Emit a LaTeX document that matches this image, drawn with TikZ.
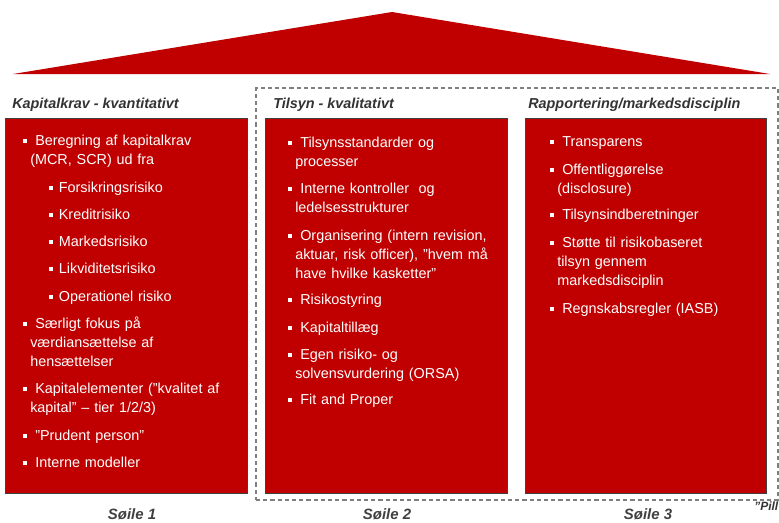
\documentclass[tikz,border=0pt]{standalone}
\usepackage{fontspec}
\setmainfont{Liberation Sans}
\definecolor{pillred}{HTML}{C00000}
\definecolor{edgegray}{HTML}{404040}
\definecolor{headgray}{HTML}{333333}
\definecolor{dashgray}{HTML}{7F7F7F}
\newcommand{\bul}{\rule[1.6pt]{3pt}{3pt}\hspace{6pt}}
\newcommand{\sbul}{\rule[1.6pt]{3pt}{3pt}\hspace{4.2pt}}
\newcommand{\cnt}{\hspace*{5.25pt}}
\tikzset{
  pillar/.style={draw=edgegray, line width=0.75pt, fill=pillred, inner sep=0pt,
    minimum height=281.25pt},
  itm/.style={anchor=base west, inner sep=0pt, text=white, text width=170pt,
    align=left, font=\fontsize{10.8}{14.25}\selectfont},
  head/.style={anchor=base west, inner sep=0pt, text=headgray,
    font=\fontsize{10.8}{13}\selectfont\bfseries\itshape},
  foot/.style={anchor=base, inner sep=0pt, text=edgegray,
    font=\fontsize{11.2}{13}\selectfont\bfseries\itshape},
  frame/.style={draw=dashgray, line width=0.9pt, dash pattern=on 3.2pt off 2.2pt,
    inner sep=0pt}
}
\begin{document}
\begin{tikzpicture}[x=0.75pt,y=-0.75pt]
\useasboundingbox (0,0) rectangle (779,522);
\clip (0,0) rectangle (779,522);
% roof
\fill[pillred] (13,74) -- (392,12) -- (770,74) -- cycle;
% dashed frame
\node[frame, minimum width=391.5pt, minimum height=309pt] (frame) at (517,294) {};
% pillars
\node[pillar, minimum width=181.5pt] (p1) at (126,305.5) {};
\node[pillar, minimum width=181.5pt] (p2) at (386,305.5) {};
\node[pillar, minimum width=180.75pt] (p3) at (645.5,305.5) {};
% headers
\node[head] (h1) at (12,108) {Kapitalkrav - kvantitativt};
\node[head] (h2) at (273,108) {Tilsyn - kvalitativt};
\node[head] (h3) at (528,108) {Rapportering/markedsdisciplin};
% pillar 1
\node[itm] (a1) at (23,145) {\bul Beregning af kapitalkrav\\\cnt(MCR, SCR) ud fra};
\node[itm] (a2) at (49,192) {\sbul Forsikringsrisiko};
\node[itm] (a3) at (49,219) {\sbul Kreditrisiko};
\node[itm] (a4) at (49,246) {\sbul Markedsrisiko};
\node[itm] (a5) at (49,273) {\sbul Likviditetsrisiko};
\node[itm] (a6) at (49,301) {\sbul Operationel risiko};
\node[itm] (a7) at (23,328) {\bul Særligt fokus på\\\cnt værdiansættelse af\\\cnt hensættelser};
\node[itm] (a8) at (23,393) {\bul Kapitalelementer (”kvalitet af\\\cnt kapital” – tier 1/2/3)};
\node[itm] (a9) at (23,440) {\bul ”Prudent person”};
\node[itm] (a10) at (23,467) {\bul Interne modeller};
% pillar 2
\node[itm] (b1) at (288,147) {\bul Tilsynsstandarder og\\\cnt processer};
\node[itm] (b2) at (288,193) {\bul Interne kontroller\ \ og\\\cnt ledelsesstrukturer};
\node[itm] (b3) at (288,240) {\bul Organisering (intern revision,\\\cnt aktuar, risk officer), ”hvem må\\\cnt have hvilke kasketter”};
\node[itm] (b4) at (288,304) {\bul Risikostyring};
\node[itm] (b5) at (288,332) {\bul Kapitaltillæg};
\node[itm] (b6) at (288,359) {\bul Egen risiko- og\\\cnt solvensvurdering (ORSA)};
\node[itm] (b7) at (288,404) {\bul Fit and Proper};
% pillar 3
\node[itm] (c1) at (550,146) {\bul Transparens};
\node[itm] (c2) at (550,174) {\bul Offentliggørelse\\\cnt(disclosure)};
\node[itm] (c3) at (550,219) {\bul Tilsynsindberetninger};
\node[itm] (c4) at (550,247) {\bul Støtte til risikobaseret\\\cnt tilsyn gennem\\\cnt markedsdisciplin};
\node[itm] (c5) at (550,313) {\bul Regnskabsregler (IASB)};
% footers
\node[foot] (f1) at (132,519) {Søile 1};
\node[foot] (f2) at (387,519) {Søile 2};
\node[foot] (f3) at (648,519) {Søile 3};
\node[anchor=base west, inner sep=0pt, text=headgray,
  font=\fontsize{9}{11}\selectfont\bfseries\itshape] (pill) at (754,510) {”Pill};
\end{tikzpicture}
\end{document}
